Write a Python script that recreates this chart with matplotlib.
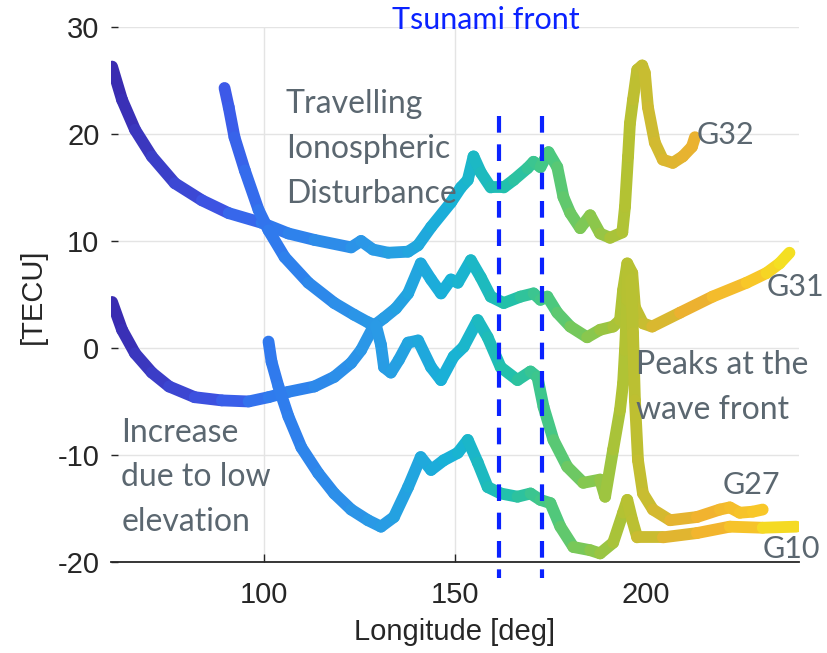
import numpy as np
import matplotlib
matplotlib.use('Agg')
import matplotlib.pyplot as plt
from matplotlib.collections import LineCollection
from matplotlib.colors import LinearSegmentedColormap, Normalize

plt.rcParams['axes.unicode_minus'] = False

# values (longitude in deg, TEC in TECU)
g32_lon = [60.4, 63.0, 66.4, 70.8, 76.8, 83.9, 90.9, 99.5, 106.5, 113.3, 122.9, 125.5,
           128.6, 132.6, 137.8, 140.4, 143.8, 149.0, 151.6, 153.4, 154.9, 156.8, 159.4,
           162.8, 165.4, 169.0, 170.6, 172.4, 174.5, 176.8, 178.4, 180.2, 182.8, 185.4,
           188.0, 190.6, 193.8, 194.5, 195.3, 195.8, 196.6, 197.7, 199.0, 199.7, 200.5,
           202.3, 204.4, 207.0, 209.6, 212.0, 212.8]
g32_tec = [26.3, 23.2, 20.4, 17.9, 15.4, 13.8, 12.6, 11.7, 10.7, 10.1, 9.4, 10.0,
           9.2, 8.9, 9.0, 9.6, 11.3, 13.6, 15.0, 15.7, 17.9, 16.4, 15.0,
           15.0, 15.7, 16.8, 17.4, 16.9, 18.3, 16.9, 14.1, 12.6, 11.2, 12.4,
           10.7, 10.3, 10.8, 13.2, 17.9, 21.0, 23.2, 26.0, 26.4, 25.7, 22.5,
           19.2, 17.6, 17.3, 17.9, 18.8, 19.7]

g31_lon = [60.4, 63.0, 66.4, 70.8, 75.3, 82.0, 89.1, 96.1, 101.3, 106.5, 113.3, 118.5,
           122.9, 125.5, 128.9, 131.5, 134.6, 137.8, 141.1, 143.8, 146.4, 149.0, 150.8,
           154.2, 156.8, 159.4, 162.8, 167.2, 170.6, 172.4, 174.2, 176.8, 180.2, 184.6,
           188.0, 191.4, 193.2, 194.0, 195.1, 196.4, 197.1, 199.2, 201.6, 208.9, 217.4,
           226.3, 231.5, 234.9, 237.5]
g31_tec = [4.3, 1.7, -0.5, -2.3, -3.6, -4.6, -4.9, -5.0, -4.6, -4.1, -3.6, -2.7,
           -1.4, -0.2, 2.1, 2.8, 3.7, 5.1, 7.9, 6.4, 5.1, 6.4, 6.1,
           8.2, 6.6, 4.8, 4.2, 4.8, 5.1, 4.5, 4.8, 3.3, 2.0, 1.0,
           1.7, 2.0, 2.6, 5.4, 7.9, 7.0, 3.8, 2.3, 2.0, 3.3, 4.8,
           6.1, 7.0, 7.9, 8.9]

g27_lon = [89.8, 90.9, 92.4, 95.1, 98.7, 101.3, 105.5, 111.7, 118.5, 123.7, 127.3, 129.4,
           130.7, 131.5, 133.3, 135.4, 137.8, 140.4, 143.8, 146.4, 149.7, 152.3, 156.0,
           158.6, 162.0, 166.4, 169.8, 171.6, 173.2, 175.8, 179.4, 183.6, 188.0, 189.3,
           191.4, 193.2, 194.0, 194.5, 195.1, 195.3, 196.1, 196.6, 197.1, 197.9, 199.2,
           201.8, 206.3, 213.3, 219.3, 221.9, 224.5, 227.9, 230.5]
g27_tec = [24.3, 22.5, 19.7, 16.6, 12.9, 11.0, 8.5, 6.1, 4.2, 3.1, 2.4, 2.1,
           0.3, -1.8, -2.3, -1.1, 0.5, 0.7, -1.8, -3.0, -0.8, 0.1, 2.6,
           1.0, -1.8, -3.0, -2.2, -2.7, -5.5, -8.6, -11.1, -12.6, -12.3, -13.9,
           -9.5, -5.8, -3.3, -0.2, 4.5, 7.5, 6.4, 1.4, -4.9, -10.5, -13.6,
           -15.1, -16.1, -15.8, -15.1, -14.9, -15.4, -15.3, -15.1]

g10_lon = [101.3, 102.1, 103.9, 106.5, 109.9, 114.3, 118.5, 122.9, 127.3, 130.7, 134.1,
           137.8, 141.1, 143.8, 147.1, 150.8, 153.4, 156.0, 158.6, 162.0, 166.4, 169.8,
           172.4, 175.0, 177.6, 181.0, 185.4, 188.0, 191.4, 194.0, 195.1, 196.4, 197.7,
           204.4, 213.3, 221.9, 230.5, 239.3]
g10_tec = [0.6, -1.3, -3.6, -6.4, -9.3, -11.7, -13.6, -15.1, -16.1, -16.7, -15.8,
           -13.0, -10.2, -11.4, -10.5, -9.8, -8.6, -10.7, -13.0, -13.6, -13.9, -13.6,
           -14.2, -14.5, -16.7, -18.6, -18.9, -19.2, -18.2, -15.4, -14.2, -16.1, -17.7,
           -17.7, -17.3, -16.7, -16.8, -16.7]

front_lon = [161.5, 172.9]

# colour along longitude
color_lon = [60, 90, 101, 130, 150, 165, 175, 185, 195, 205, 215, 230, 240]
color_hex = ['#3a2aae', '#3d58e8', '#3078ee', '#2a9ae6', '#18b2d6', '#22c0aa', '#48c882',
             '#82c852', '#b4c232', '#d8b830', '#f0b030', '#f8c828', '#f2ec1e']
cmap = LinearSegmentedColormap.from_list(
    'lon', [((l - 60) / 180, c) for l, c in zip(color_lon, color_hex)])
norm = Normalize(60, 240)

fig = plt.figure(figsize=(8.28, 6.53), dpi=100)
ax = fig.add_axes([0.1335, 0.1394, 0.8315, 0.8193])

for lon, tec in [(g32_lon, g32_tec), (g31_lon, g31_tec), (g27_lon, g27_tec), (g10_lon, g10_tec)]:
    pts = np.column_stack([lon, tec])
    segs = np.stack([pts[:-1], pts[1:]], axis=1)
    lc = LineCollection(segs, cmap=cmap, norm=norm, linewidths=8.5,
                        capstyle='round', joinstyle='round', zorder=2)
    lc.set_array((pts[:-1, 0] + pts[1:, 0]) / 2)
    ax.add_collection(lc)

for x in front_lon:
    ax.plot([x, x], [21.7, -21.5], color='#0a22ff', lw=3, dashes=(4, 2.8),
            clip_on=False, zorder=3)

ax.set_xlim(60, 240)
ax.set_ylim(-20, 30)
ax.set_xticks([100, 150, 200])
ax.set_yticks([-20, -10, 0, 10, 20, 30])
ax.grid(True, color='#e4e4e4', lw=1, zorder=0)
ax.set_axisbelow(True)
ax.get_xgridlines()[2].set_visible(False)
ax.xaxis.get_major_ticks()[2].tick1line.set_visible(False)
for s in ['top', 'right', 'left']:
    ax.spines[s].set_visible(False)
ax.spines['bottom'].set_color('#262626')
ax.spines['bottom'].set_linewidth(1.3)

tick_font = ['Liberation Sans', 'DejaVu Sans']
ax.tick_params(axis='x', direction='in', length=6, width=1, colors='#262626', pad=14, labelsize=21)
ax.tick_params(axis='y', direction='in', length=5, width=1, colors='#262626', pad=8, labelsize=21)
for lab in ax.get_xticklabels() + ax.get_yticklabels():
    lab.set_family(tick_font)

ax.set_xlabel('Longitude [deg]', fontsize=21, family=tick_font, color='#262626', va='center')
ax.xaxis.set_label_coords(0.5, -0.131)
ax.set_ylabel('[TECU]', fontsize=21, family=tick_font, color='#262626', va='center')
ax.yaxis.set_label_coords(-0.1126, 0.497)

note_font = ['Lato', 'DejaVu Sans']
gray = '#5b6770'
ax.text(158.1, 30.65, 'Tsunami front', color='#0a22ff', fontsize=22, family=note_font,
        ha='center', va='center', clip_on=False)
ax.text(105.8, 24.2, 'Travelling\nIonospheric\nDisturbance', color=gray, fontsize=23,
        family=note_font, ha='left', va='top', linespacing=1.62, zorder=4)
ax.text(62.8, -6.5, 'Increase\ndue to low\nelevation', color=gray, fontsize=23,
        family=note_font, ha='left', va='top', linespacing=1.62, zorder=4)
ax.text(197.5, -0.2, 'Peaks at the\nwave front', color=gray, fontsize=23,
        family=note_font, ha='left', va='top', linespacing=1.62, zorder=4)
ax.text(213.3, 19.9, 'G32', color=gray, fontsize=22, family=note_font, ha='left', va='center')
ax.text(231.4, 5.7, 'G31', color=gray, fontsize=22, family=note_font, ha='left', va='center',
        clip_on=False)
ax.text(220.1, -12.8, 'G27', color=gray, fontsize=22, family=note_font, ha='left', va='center')
ax.text(230.6, -18.8, 'G10', color=gray, fontsize=22, family=note_font, ha='left', va='center',
        clip_on=False)

fig.savefig('out.png', dpi=100)
